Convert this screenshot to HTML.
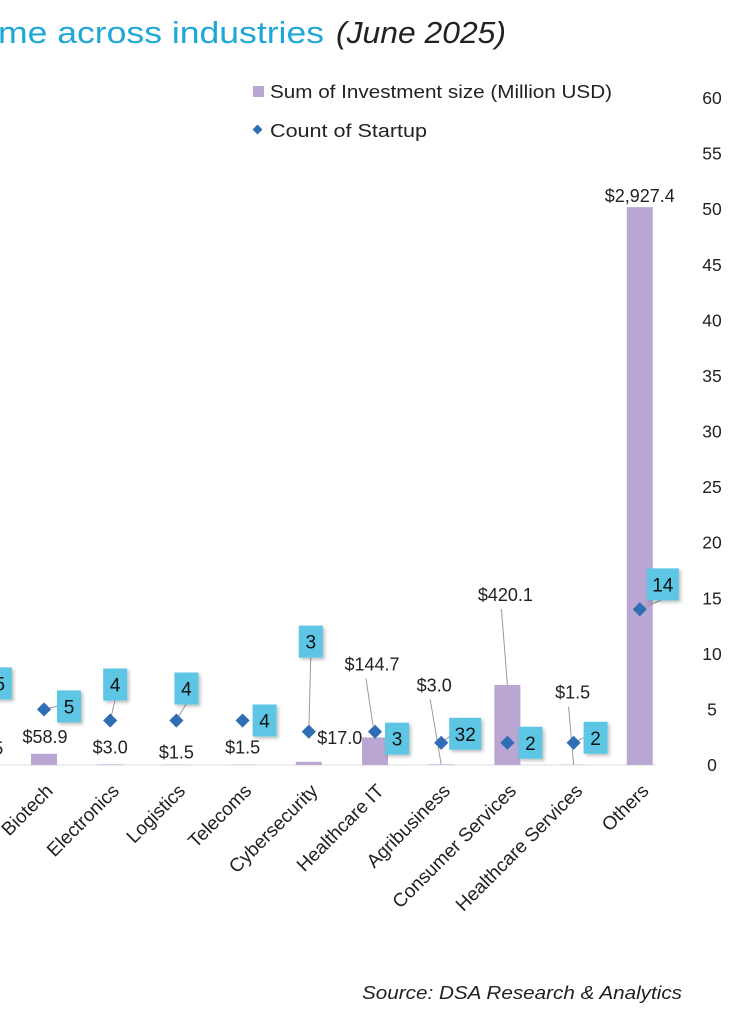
<!DOCTYPE html>
<html><head><meta charset="utf-8"><style>
html,body{margin:0;padding:0;background:#fff;width:738px;height:1024px;overflow:hidden}
svg{display:block;font-family:"Liberation Sans",sans-serif}
</style></head><body>
<svg id="chart" width="738" height="1024" viewBox="0 0 738 1024">
<defs><filter id="sh" x="-30%" y="-30%" width="170%" height="170%"><feDropShadow dx="2" dy="2" stdDeviation="1.5" flood-color="#000" flood-opacity="0.25"/></filter></defs>
<text x="-2" y="43" font-size="31" fill="#1ea8d5" textLength="326" lengthAdjust="spacingAndGlyphs">me across industries</text>
<text x="336" y="43" font-size="31" fill="#222" font-style="italic" textLength="170" lengthAdjust="spacingAndGlyphs">(June 2025)</text>
<g>
<rect x="253" y="86" width="11" height="11" fill="#b9a6d2"/>
<text x="270" y="98" font-size="18" fill="#222" textLength="342" lengthAdjust="spacingAndGlyphs">Sum of Investment size (Million USD)</text>
<rect x="254" y="126" width="7" height="7" fill="#2f6db5" transform="rotate(45 257.5 129.5)"/>
<text x="270" y="137" font-size="18" fill="#222" textLength="157" lengthAdjust="spacingAndGlyphs">Count of Startup</text>
</g>
<line x1="0" y1="765" x2="656" y2="765" stroke="#ddd" stroke-width="1"/>
<g id="yaxis"></g>
<g id="bars"></g>
<g id="leaders"></g>
<g id="points"></g>
<g id="labels"></g>
<g id="xlabels"></g>
<text x="682" y="999" font-size="18" font-style="italic" fill="#222" text-anchor="end" textLength="320" lengthAdjust="spacingAndGlyphs">Source: DSA Research &amp; Analytics</text>
</svg>
<script>
const categories = ["Fintech","Biotech","Electronics","Logistics","Telecoms","Cybersecurity","Healthcare IT","Agribusiness","Consumer Services","Healthcare Services","Others"];
const investment = [1.5,58.9,3.0,1.5,1.5,17.0,144.7,3.0,420.1,1.5,2927.4];
const investmentLabels = ["$1.5","$58.9","$3.0","$1.5","$1.5","$17.0","$144.7","$3.0","$420.1","$1.5","$2,927.4"];
const counts = [5,5,4,4,4,3,3,2,2,2,14];
const countLabels = ["5","5","4","4","4","3","3","32","2","2","14"];
const yTicks = [0,5,10,15,20,25,30,35,40,45,50,55,60];

// layout (pixel offsets, not data)
const valOff = [[8,-10],[1,-11],[0,-11],[0,-6],[0,-11],[31,-18],[-3,-67],[-7,-73],[-2,-84],[-1,-66],[0,-5]];
const valLeader = [0,0,0,0,0,0,1,1,1,1,0];
const cntOff = [[22,-26],[25,-3],[5,-36],[10,-32],[22,0],[2,-90],[22,7],[24,-9],[23,0],[22,-5],[23,-25]];
const cntLeader = [0,1,1,1,0,1,0,1,0,1,1];

const X0 = 44 - 66.2, DX = 66.2, Y0 = 765, YTOP = 98;
const xPos = i => X0 + i*DX;
const yCount = v => Y0 - v*(Y0-YTOP)/60;
const yInv = v => Y0 - v*(Y0-YTOP)/3500;
const NS = "http://www.w3.org/2000/svg";
function mk(tag, attrs, parent){const e=document.createElementNS(NS,tag);for(const k in attrs)e.setAttribute(k,attrs[k]);parent.appendChild(e);return e;}
const gy=document.getElementById('yaxis'),gb=document.getElementById('bars'),gl=document.getElementById('leaders'),
gp=document.getElementById('points'),glab=document.getElementById('labels'),gx=document.getElementById('xlabels');

yTicks.forEach(t=>{
  const e=mk('text',{x:712,y:yCount(t)+6,'font-size':17.5,fill:'#222','text-anchor':'middle'},gy);
  e.textContent=t;
  
  
});

categories.forEach((c,i)=>{
  const x=xPos(i);
  const yt=yInv(investment[i]);
  const b=mk('rect',{x:x-13,y:yt,width:26,height:Math.max(0,Y0-yt),fill:'#b9a6d2'},gb);
  
  

  const vx=x+valOff[i][0], vy=yt+valOff[i][1];
  if(valLeader[i]){
    const l=mk('line',{x1:vx-4+(i==6?-2:0),y1:vy+8,x2:x+(i==6?-2:0),y2:(i==6?yCount(counts[i])-6:yt),stroke:'#999','stroke-width':1},gl);
    
    
  }
  const vt=mk('text',{x:vx,y:vy,'font-size':18,fill:'#222','text-anchor':'middle'},glab);
  vt.textContent=investmentLabels[i];
  
  

  const py=yCount(counts[i]);
  const bx=x+cntOff[i][0], by=py+cntOff[i][1];
  if(cntLeader[i]){
    const l=mk('line',{x1:x,y1:py,x2:bx-(cntOff[i][1]>-10?12:0),y2:by+(cntOff[i][1]>-10?0:15),stroke:'#999','stroke-width':1},gl);
    
    
  }
  const d=mk('rect',{x:x-5,y:py-5,width:10,height:10,fill:'#2f6db5',transform:`rotate(45 ${x} ${py})`},gp);
  
  

  const w=countLabels[i].length>1?32:24;
  const r=mk('rect',{x:bx-w/2,y:by-16,width:w,height:32,fill:'#5cc6e4',filter:'url(#sh)'},glab);
  
  
  const ct=mk('text',{x:bx,y:by+7,'font-size':19,fill:'#111','text-anchor':'middle'},glab);
  ct.textContent=countLabels[i];
  
  

  const xt=mk('text',{x:x+10,y:792,'font-size':19,fill:'#222','text-anchor':'end',transform:`rotate(-45 ${x+10} 792)`},gx);
  xt.textContent=c;
  
  
});
</script>
</body></html>
